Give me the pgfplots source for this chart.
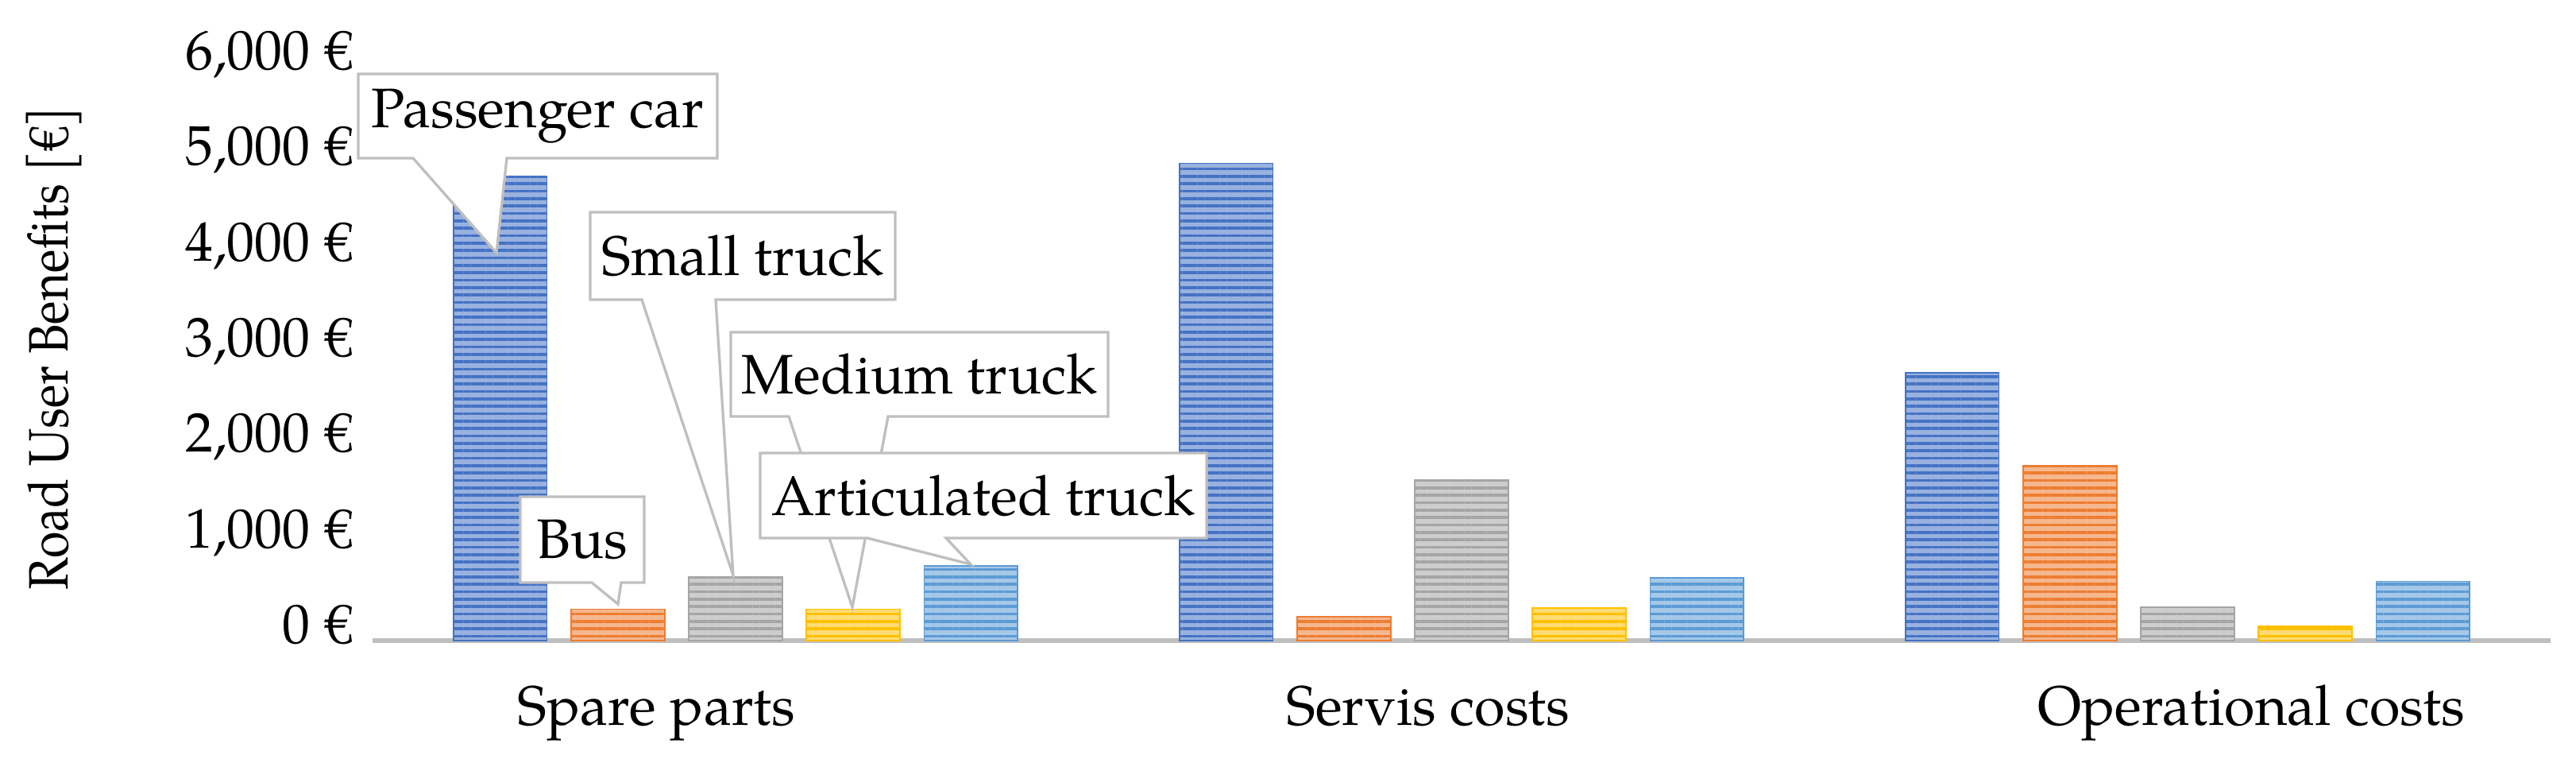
\documentclass[border=0pt]{standalone}
\usepackage{fontspec}
\setmainfont{texgyrepagella-regular.otf}
\usepackage{pgfplots}
\pgfplotsset{compat=1.18}
\usetikzlibrary{patterns.meta}

\definecolor{cBlue}{HTML}{4472C4}
\definecolor{cOrange}{HTML}{ED7D31}
\definecolor{cGray}{HTML}{A5A5A5}
\definecolor{cYellow}{HTML}{FFC000}
\definecolor{cLBlue}{HTML}{5B9BD5}
\definecolor{cAxis}{HTML}{BFBFBF}
\definecolor{cBox}{HTML}{BFBFBF}

% striped bar style
\pgfplotsset{
  stripes/.style={fill=#1!55!white, draw=#1,
    postaction={pattern={Lines[angle=0,distance=2.8pt,line width=1.1pt]}, pattern color=#1}},
}

% callout: box x1 y1 x2 y2, pointer base b1 b2, tip tx ty, text (pixel units)
\newcommand\callout[9]{%
  \filldraw[fill=white, draw=cBox, line width=1pt]
    (#1,#2) -- (#3,#2) -- (#3,#4) -- (#6,#4) -- (#7,#8) -- (#5,#4) -- (#1,#4) -- cycle;
  \node[inner sep=0pt] at ({(#1+#3)/2},{(#2+#4)/2}) {#9};
}

\begin{document}
\fontsize{21}{25}\selectfont
\begin{tikzpicture}
\useasboundingbox (0,0) rectangle (972.9pt,287.7pt);
\begin{axis}[
  at={(140.7pt,45.9pt)}, anchor=south west,
  scale only axis, width=822.6pt, height=216.6pt,
  xmin=-0.5, xmax=2.5, ymin=0, ymax=6000,
  ybar, bar width=0.129,
  axis x line*=bottom, axis y line*=left,
  y axis line style={draw=none},
  x axis line style={draw=cAxis, line width=2pt, -},
  major tick length=0pt,
  xtick={-0.109,0.954,2.088},
  xticklabels={Spare parts, Servis costs, Operational costs},
  xticklabel style={anchor=base, inner sep=0pt, yshift=-32pt},
  ytick={0,1000,2000,3000,4000,5000,6000},
  yticklabels={{0 €},{1,000 €},{2,000 €},{3,000 €},{4,000 €},{5,000 €},{6,000 €}},
  yticklabel style={anchor=base east, inner sep=0pt, xshift=-7.5pt, yshift=-1pt},
  ylabel={Road User Benefits [€]},
  ylabel style={at={(axis description cs:-0.1462,0.5097)}, anchor=center,
    font=\fontsize{21}{25}\selectfont, xscale=0.87},
  clip=false,
]
% Passenger car
\addplot[stripes=cBlue, bar shift=-0.324] coordinates {(0,4860) (1,4990) (2,2800)};
% Bus
\addplot[stripes=cOrange, bar shift=-0.162] coordinates {(0,330) (1,250) (2,1830)};
% Small truck
\addplot[stripes=cGray, bar shift=0] coordinates {(0,670) (1,1680) (2,350)};
% Medium truck
\addplot[stripes=cYellow, bar shift=0.162] coordinates {(0,330) (1,340) (2,150)};
% Articulated truck
\addplot[stripes=cLBlue, bar shift=0.324] coordinates {(0,780) (1,660) (2,620)};
\end{axis}

\begin{scope}[x=0.3pt, y=-0.3pt, shift={(0pt,287.7pt)}]
\callout{451}{93}{903}{199}{520}{638}{625}{318}{Passenger car}
\callout{655}{625}{811}{733}{745}{782}{778}{760}{Bus}
\callout{743}{267}{1127}{377}{808}{901}{923}{724}{Small truck}
\callout{920}{418}{1395}{524}{993}{1118}{1073}{764}{Medium truck}
\callout{957}{570}{1519}{677}{1092}{1191}{1222}{710}{Articulated truck}
\end{scope}
\end{tikzpicture}
\end{document}
